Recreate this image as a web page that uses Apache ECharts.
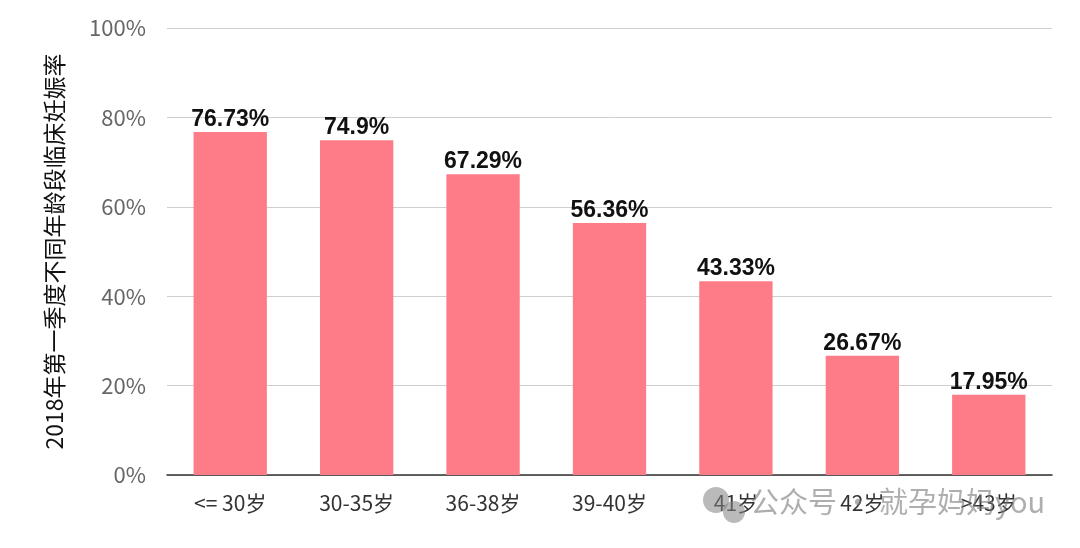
<!DOCTYPE html>
<html><head><meta charset="utf-8">
<script src="https://cdn.jsdelivr.net/npm/echarts@6/dist/echarts.min.js"></script>
<style>html,body{margin:0;padding:0;background:#fff}#c{width:1080px;height:548px}</style>
</head><body><div id="c"></div>
<script>
const categories = ['<= 30岁', '30-35岁', '36-38岁', '39-40岁', '41岁', '42岁', '>43岁'];
const rates = [76.73, 74.9, 67.29, 56.36, 43.33, 26.67, 17.95];
const yTicks = [0, 20, 40, 60, 80, 100];
const yName = '2018年第一季度不同年龄段临床妊娠率';
const watermark = '公众号 · 就孕妈妈you';

const font = '"Noto Sans CJK SC", "Helvetica Neue", Arial, sans-serif';
const chart = echarts.init(document.getElementById('c'));
chart.setOption({
  animation: false,
  backgroundColor: '#fff',
  grid: { left: 167, right: 28, top: 28, bottom: 73 },
  xAxis: {
    type: 'category', data: categories,
    axisLine: { lineStyle: { color: '#333', width: 1.5 } },
    axisTick: { show: false },
    axisLabel: { color: '#333', fontSize: 21, fontFamily: font, margin: 18 }
  },
  yAxis: {
    type: 'value', min: yTicks[0], max: yTicks[yTicks.length - 1], interval: 20,
    name: yName, nameLocation: 'middle', nameGap: 101, nameRotate: 90,
    nameTextStyle: { color: '#111', fontSize: 23, fontFamily: font },
    axisLine: { show: false }, axisTick: { show: false },
    axisLabel: { color: '#666', fontSize: 22, fontFamily: font, margin: 21, formatter: '{value}%' },
    splitLine: { lineStyle: { color: '#cfcfcf', width: 1 } }
  },
  series: [{
    type: 'bar', data: rates, barWidth: '58%',
    itemStyle: { color: '#fd7c88' },
    label: { show: true, position: 'top', distance: 1, color: '#111', fontSize: 23, fontWeight: 'bold',
      fontFamily: 'Arial, "Liberation Sans", sans-serif', formatter: p => p.value + '%' }
  }],
  graphic: [
    { type: 'circle', shape: { cx: 716, cy: 500, r: 13 }, style: { fill: 'rgba(130,130,130,0.55)' }, z: 100 },
    { type: 'circle', shape: { cx: 734, cy: 512, r: 11 }, style: { fill: 'rgba(130,130,130,0.55)' }, z: 100 },
    { type: 'text', left: 750, top: 487, z: 100,
      style: { text: watermark, fill: 'rgba(120,120,120,0.6)', fontSize: 29, fontFamily: font } }
  ]
});
</script></body></html>
